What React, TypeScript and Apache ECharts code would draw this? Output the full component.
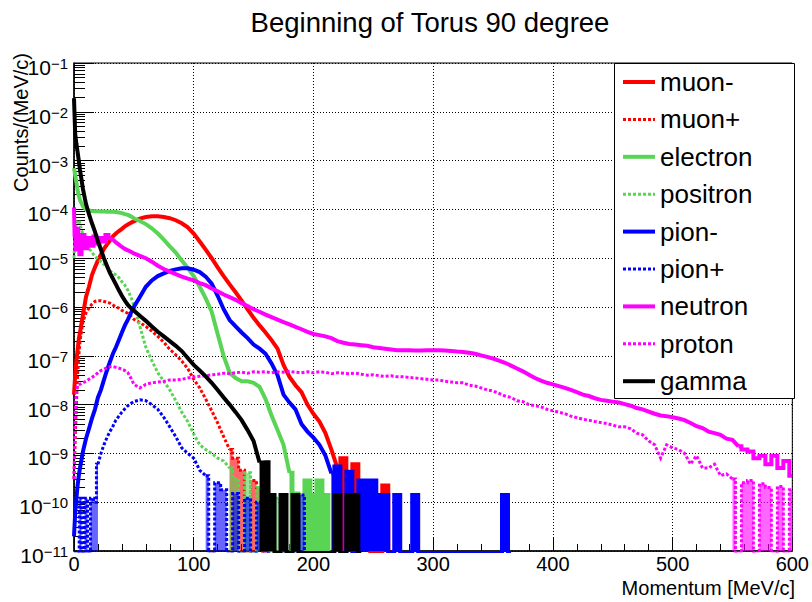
import React, { useEffect, useRef } from "react";
import * as echarts from "echarts";

const FONT = '"Liberation Sans", Arial, Helvetica, sans-serif';

// Momentum bin centres [MeV/c]
const momentum = [
  0, 1, 2, 3, 4,
  5, 7.5, 10, 12.5, 15, 17.5, 20, 22.5, 25, 27.5, 30, 32.5, 35, 37.5, 40, 42.5, 45, 47.5, 50,
  55, 60, 65, 70, 75, 80, 85, 90, 95, 100,
  105, 110, 115, 120, 125, 130, 135, 140, 145, 150,
  155, 160, 165, 170, 175, 180, 185, 190, 195, 200,
  205, 210, 215, 220, 225, 230, 235, 240, 245, 250,
  255, 260, 265, 270, 275, 280, 285, 290, 295, 300,
  305, 310, 315, 320, 325, 330, 335, 340, 345, 350,
  355, 360, 365, 370, 375, 380, 385, 390, 395, 400,
  405, 410, 415, 420, 425, 430, 435, 440, 445, 450,
  455, 460, 465, 470, 475, 480, 485, 490, 495, 500,
  505, 510, 515, 520, 525, 530, 535, 540, 545, 550,
  555, 560, 565, 570, 575, 580, 585, 590, 595, 600,
];

// Counts/(MeV/c) per bin (0 = empty bin)
const muonMinus = [
  1.6e-8, 4e-8, 8e-8, 1.3e-7, 2.2e-7,
  3e-7, 7e-7, 1.6e-6, 2.6e-6, 4.5e-6, 6.5e-6, 9e-6, 1.2e-5, 1.55e-5, 1.9e-5, 2.3e-5, 2.8e-5, 3.2e-5, 3.6e-5, 4e-5, 4.5e-5, 4.9e-5, 5.3e-5, 5.7e-5,
  6.5e-5, 7e-5, 7.2e-5, 7.2e-5, 7e-5, 6.6e-5, 6e-5, 5.2e-5, 4.3e-5, 3.2e-5,
  2.2e-5, 1.5e-5, 1e-5, 6.5e-6, 4.3e-6, 2.9e-6, 2e-6, 1.35e-6, 9e-7, 6e-7,
  4.2e-7, 3e-7, 2.1e-7, 1.4e-7, 6.5e-8, 3.7e-8, 2.5e-8, 1.8e-8, 1e-8, 6.5e-9,
  4.5e-9, 2.6e-9, 1.2e-9, 5e-10, 8e-10, 2e-10, 6e-10, 2e-10, 2.2e-10, 0,
  0, 2.2e-10, 0,
];
const muonPlus = [
  3e-10, 2e-9, 1e-8, 4e-8, 1e-7,
  2e-7, 5e-7, 7.5e-7, 9.5e-7, 1.15e-6, 1.3e-6, 1.35e-6, 1.35e-6, 1.3e-6, 1.25e-6, 1.2e-6, 1.1e-6, 1e-6, 9.5e-7, 8.5e-7, 8e-7, 7.4e-7, 6.5e-7, 5.6e-7,
  4.8e-7, 4e-7, 3.2e-7, 2.5e-7, 1.9e-7, 1.35e-7, 1.05e-7, 7.8e-8, 5.5e-8, 3.3e-8,
  2.2e-8, 1.3e-8, 7.5e-9, 4.2e-9, 2.2e-9, 1.2e-9, 8e-10, 4.5e-10, 0, 2.8e-10,
  2e-10, 0, 1e-10, 0,
];
const electron = [
  7e-4, 5e-4, 3.6e-4, 2.5e-4, 1.9e-4,
  1.55e-4, 1.15e-4, 1e-4, 9.5e-5, 9.3e-5, 9.2e-5, 9.2e-5, 9.1e-5, 9.1e-5, 9e-5, 9e-5, 8.9e-5, 8.8e-5, 8.6e-5, 8.4e-5, 8e-5, 7.7e-5, 7.2e-5, 6.6e-5,
  5.8e-5, 5e-5, 4.1e-5, 3.2e-5, 2.4e-5, 1.75e-5, 1.3e-5, 9e-6, 6.3e-6, 4.3e-6,
  2.6e-6, 1.5e-6, 8e-7, 2.8e-7, 1e-7, 4.5e-8, 3.5e-8, 3e-8, 3e-8, 2.8e-8,
  2.3e-8, 1.3e-8, 6e-9, 3e-9, 1.5e-9, 4e-10, 1.5e-10, 0, 2.8e-10, 1.4e-10,
  2.8e-10, 1.4e-10, 0,
];
const positron = [
  1e-5, 3e-5, 5e-5, 6e-5, 6e-5,
  5e-5, 3e-5, 2.2e-5, 1.6e-5, 1.3e-5, 1.1e-5, 9.5e-6, 8.5e-6, 7.5e-6, 6.5e-6, 5.5e-6, 5e-6, 4.5e-6, 4e-6, 3.3e-6, 2.8e-6, 2.2e-6, 1.6e-6, 1.1e-6,
  4e-7, 1.5e-7, 8e-8, 4.5e-8, 3e-8, 2e-8, 1.2e-8, 7e-9, 4.5e-9, 2.5e-9,
  1.5e-9, 1.2e-9, 1e-9, 8e-10, 7e-10, 5e-10, 3e-10, 0, 4e-10, 0,
  2e-10, 1.5e-10, 0, 1.2e-10, 0,
];
const pionMinus = [
  2e-11, 6e-11, 1.2e-10, 2.2e-10, 3.5e-10,
  5e-10, 1.1e-9, 2e-9, 3.2e-9, 5.2e-9, 8e-9, 1.4e-8, 2e-8, 3.2e-8, 5e-8, 7.5e-8, 1.1e-7, 1.5e-7, 2.1e-7, 3e-7, 4.2e-7, 5.5e-7, 7.5e-7, 1e-6,
  1.6e-6, 2.6e-6, 3.5e-6, 4.3e-6, 4.9e-6, 5.5e-6, 5.9e-6, 6.2e-6, 6.2e-6, 5.8e-6,
  5.2e-6, 4.2e-6, 3e-6, 1.7e-6, 9e-7, 5.4e-7, 4e-7, 3e-7, 2.3e-7, 1.7e-7,
  1.4e-7, 1.1e-7, 7e-8, 4e-8, 1.6e-8, 1.1e-8, 8e-9, 4e-9, 2.8e-9, 2.1e-9,
  1.5e-9, 9e-10, 3.9e-10, 5.4e-10, 0, 4.2e-10, 0, 2.8e-10, 2.8e-10, 2.8e-10,
  1.4e-10, 1.4e-10, 0, 1.4e-10, 0, 0, 1.4e-10, 0, 0, 0,
  0, 0, 0, 0, 0, 0, 0, 0, 0, 0,
  0, 1.4e-10, 0,
];
const pionPlus = [
  0, 0, 0, 0, 0,
  1.2e-10, 0, 1.2e-10, 0, 1.2e-10, 1e-10, 6e-10, 1e-9, 1.5e-9, 2.1e-9, 2.8e-9, 3.6e-9, 4.8e-9, 5.8e-9, 7e-9, 8.2e-9, 9.5e-9, 1.05e-8, 1.15e-8,
  1.25e-8, 1.2e-8, 1e-8, 8e-9, 5.5e-9, 3.5e-9, 2.2e-9, 1.3e-9, 1e-9, 8e-10,
  4.5e-10, 3.5e-10, 0, 2.5e-10, 1.8e-10, 0, 1.5e-10, 0, 1.2e-10, 0,
  1e-10, 0, 1e-10, 0, 0, 0, 0, 1.4e-10, 0,
];
const neutron = [
  1.1e-4, 3e-5, 1.5e-5, 4e-5, 2e-5,
  1.2e-5, 3e-5, 1.6e-5, 2.6e-5, 1.8e-5, 2.8e-5, 2e-5, 2.6e-5, 2.2e-5, 3e-5, 2.6e-5, 2.4e-5, 2.1e-5, 1.9e-5, 1.7e-5, 1.55e-5, 1.45e-5, 1.35e-5, 1.25e-5,
  1.12e-5, 1e-5, 8.5e-6, 7e-6, 6e-6, 5.3e-6, 4.7e-6, 4.2e-6, 3.8e-6, 3.5e-6,
  3.1e-6, 2.8e-6, 2.4e-6, 2.1e-6, 1.8e-6, 1.6e-6, 1.4e-6, 1.2e-6, 1.05e-6, 9e-7,
  8e-7, 7e-7, 6.2e-7, 5.5e-7, 4.9e-7, 4.4e-7, 3.9e-7, 3.5e-7, 3.1e-7, 2.8e-7,
  2.65e-7, 2.5e-7, 2.3e-7, 2e-7, 1.85e-7, 1.75e-7, 1.7e-7, 1.65e-7, 1.6e-7, 1.5e-7,
  1.45e-7, 1.4e-7, 1.35e-7, 1.3e-7, 1.3e-7, 1.3e-7, 1.28e-7, 1.28e-7, 1.3e-7, 1.3e-7,
  1.3e-7, 1.28e-7, 1.25e-7, 1.22e-7, 1.2e-7, 1.15e-7, 1.1e-7, 1.02e-7, 9.5e-8, 8.8e-8,
  8e-8, 7.2e-8, 6.3e-8, 5.5e-8, 4.8e-8, 4.1e-8, 3.5e-8, 3.1e-8, 2.8e-8, 2.6e-8,
  2.4e-8, 2.2e-8, 2e-8, 1.8e-8, 1.6e-8, 1.5e-8, 1.35e-8, 1.25e-8, 1.2e-8, 1.15e-8,
  1.1e-8, 1.02e-8, 9.5e-9, 8.5e-9, 8e-9, 7.2e-9, 6.5e-9, 6e-9, 5.8e-9, 5.5e-9,
  5.2e-9, 4.8e-9, 4.2e-9, 3.6e-9, 3.3e-9, 2.8e-9, 2.6e-9, 2.4e-9, 2e-9, 1.9e-9,
  1.4e-9, 1.2e-9, 1.1e-9, 8e-10, 9e-10, 6e-10, 9e-10, 5e-10, 7e-10, 3.5e-10,
];
const proton = [
  3e-10, 6e-9, 2e-8, 2.4e-8, 2.6e-8,
  2.6e-8, 2.8e-8, 3e-8, 3.3e-8, 3.6e-8, 4e-8, 4.5e-8, 5e-8, 5.3e-8, 5.7e-8, 6e-8, 6e-8, 5.8e-8, 5.6e-8, 5.3e-8, 5e-8, 4.5e-8, 3.5e-8, 2.6e-8,
  2.2e-8, 2.6e-8, 2.8e-8, 2.9e-8, 3e-8, 3.2e-8, 3.2e-8, 3.3e-8, 3.5e-8, 3.7e-8,
  3.8e-8, 3.9e-8, 4.1e-8, 4.2e-8, 4.4e-8, 4.3e-8, 4.5e-8, 4.6e-8, 4.4e-8, 4.7e-8,
  4.6e-8, 4.7e-8, 4.5e-8, 4.7e-8, 4.6e-8, 4.8e-8, 4.6e-8, 4.5e-8, 4.7e-8, 4.5e-8,
  4.7e-8, 4.6e-8, 4.3e-8, 4.5e-8, 4.4e-8, 4.3e-8, 4.4e-8, 4.2e-8, 4e-8, 4.1e-8,
  3.9e-8, 3.8e-8, 3.9e-8, 3.7e-8, 3.7e-8, 3.6e-8, 3.5e-8, 3.4e-8, 3.3e-8, 3.2e-8,
  3.2e-8, 3e-8, 2.9e-8, 2.8e-8, 2.8e-8, 2.5e-8, 2.4e-8, 2.2e-8, 2e-8, 1.9e-8,
  1.7e-8, 1.5e-8, 1.4e-8, 1.2e-8, 1.15e-8, 1e-8, 9.5e-9, 9e-9, 8e-9, 7.5e-9,
  7e-9, 6.5e-9, 5.8e-9, 5.4e-9, 5e-9, 4.8e-9, 4.5e-9, 4.3e-9, 4.1e-9, 3.8e-9,
  3.5e-9, 3.5e-9, 3.2e-9, 2.6e-9, 2.4e-9, 1.8e-9, 1.5e-9, 8e-10, 1.5e-9, 1.3e-9,
  1.2e-9, 1e-9, 6e-10, 9e-10, 5e-10, 5e-10, 6e-10, 3.5e-10, 3.8e-10, 3e-10,
  0, 2.5e-10, 2.8e-10, 0, 2.4e-10, 2e-10, 0, 2.1e-10, 0, 1.8e-10,
];
const gamma = [
  1.9e-2, 3.5e-3, 2.2e-3, 1.5e-3, 1e-3,
  6.5e-4, 2.6e-4, 1.3e-4, 8e-5, 5.2e-5, 3.5e-5, 2.2e-5, 1.5e-5, 1e-5, 7e-6, 5e-6, 3.8e-6, 2.9e-6, 2.2e-6, 1.7e-6, 1.35e-6, 1.1e-6, 9.5e-7, 8.5e-7,
  6.6e-7, 5.2e-7, 4e-7, 3.1e-7, 2.5e-7, 2e-7, 1.6e-7, 1.25e-7, 9e-8, 6.5e-8,
  5e-8, 3.8e-8, 2.8e-8, 2e-8, 1.4e-8, 1e-8, 7e-9, 4.8e-9, 3e-9, 1.8e-9,
  6.5e-10, 6.6e-10, 1.4e-10, 0, 1.4e-10, 0, 1.4e-10, 0, 0, 0,
  0, 0, 0, 1.4e-10, 0, 1.4e-10, 1.4e-10, 0,
];

// Decade exponents for the y tick labels (10^-11 ... 10^-1)
const decadeMin = -11;
const decadeMax = -1;

const seriesNames = ["muon-", "muon+", "electron", "positron", "pion-", "pion+", "neutron", "proton", "gamma"];
const seriesValues = [muonMinus, muonPlus, electron, positron, pionMinus, pionPlus, neutron, proton, gamma];
const seriesColors = ["#ff0000", "#ff0000", "#59d454", "#59d454", "#0000ff", "#0000ff", "#ff00ff", "#ff00ff", "#000000"];
const seriesDotted = [false, true, false, true, false, true, false, true, false];
// Momentum range drawn as a smooth trace; outside it (sparse, noisy bins) histogram steps are drawn
const smoothFrom = [0, 0, 0, 0, 0, 20, 30, 0, 0];
const smoothTo = [220, 130, 180, 130, 215, 110, 555, 550, 155];
// whether the sparse (stepped) parts are dense enough to look filled down to the axis
const headFilled = [false, false, false, false, false, true, false, false, false];
const tailFilled = [true, true, true, true, true, true, false, true, true];

const EMPTY_BIN = 1e-13; // empty bins fall below the axis floor

export default function App() {
  const ref = useRef<HTMLDivElement>(null);
  useEffect(() => {
    document.body.style.margin = "0";
    const chart = echarts.init(ref.current!, null, { renderer: "svg" });

    const minorTickValues: number[] = [];
    for (let n = decadeMin; n < decadeMax; n++) {
      for (let k = 2; k <= 9; k++) minorTickValues.push(n + Math.log10(k));
    }

    const series: any[] = [];
    seriesNames.forEach((name, i) => {
      const pts = seriesValues[i].map((v, j) => [momentum[j], v > 0 ? v : EMPTY_BIN]);
      const a = momentum.indexOf(smoothFrom[i]);
      const b = Math.min(momentum.indexOf(smoothTo[i]), pts.length - 1);
      const parts: [number[][], boolean, boolean][] = [];
      if (a > 0) parts.push([pts.slice(0, a + 1), true, headFilled[i]]);
      parts.push([pts.slice(a, b + 1), false, false]);
      if (b < pts.length - 1) parts.push([pts.slice(b), true, tailFilled[i]]);
      parts.forEach(([data, isStep, filled], k) => {
        const s: any = {
          name,
          type: "line",
          step: isStep ? "middle" : false,
          symbol: "none",
          showSymbol: false,
          clip: true,
          color: seriesColors[i],
          lineStyle: {
            color: seriesColors[i],
            width: seriesDotted[i] ? 3 : 4,
            type: seriesDotted[i] ? [3, 2] : "solid",
            cap: "butt",
            join: "miter",
          },
          emphasis: { disabled: true },
          data,
          z: 2 + i * 0.01 + k * 0.001,
        };
        if (filled) {
          s.areaStyle = { color: seriesColors[i], opacity: seriesDotted[i] ? 0.6 : 1 };
        }
        series.push(s);
      });
    });

    const labelRich = {
      b: { fontSize: 21, lineHeight: 22, color: "#000", fontFamily: FONT, verticalAlign: "bottom" },
      s: { fontSize: 15, lineHeight: 12, color: "#000", fontFamily: FONT, verticalAlign: "top" },
    };

    chart.setOption({
      animation: false,
      textStyle: { fontFamily: FONT },
      grid: {
        left: 74,
        top: 63,
        width: 721,
        height: 488,
        show: true,
        borderColor: "#000",
        borderWidth: 1,
        backgroundColor: "transparent",
      },
      xAxis: {
        type: "value",
        min: 0,
        max: 600,
        interval: 100,
        axisLine: { show: true, onZero: false, lineStyle: { color: "#000", width: 1.5 } },
        axisTick: { show: true, inside: true, length: 13, lineStyle: { color: "#000", width: 1 } },
        minorTick: { show: true, splitNumber: 5, length: 7, lineStyle: { color: "#000", width: 1 } },
        splitLine: { show: true, lineStyle: { color: "#000", width: 1, type: [1, 2] } },
        axisLabel: { fontSize: 20, color: "#000", margin: 3, fontFamily: FONT },
      },
      yAxis: [
        {
          type: "log",
          logBase: 10,
          min: 1e-11,
          max: 1e-1,
          axisLine: { show: true, onZero: false, lineStyle: { color: "#000", width: 1.5 } },
          axisTick: { show: false },
          splitLine: { show: false },
          axisLabel: { show: false },
        },
        {
          type: "value",
          min: decadeMin,
          max: decadeMax,
          interval: 1,
          position: "left",
          axisLine: { show: false },
          axisTick: { show: true, inside: true, length: 20, lineStyle: { color: "#000", width: 1 } },
          splitLine: { show: true, lineStyle: { color: "#000", width: 1, type: [1, 2] } },
          axisLabel: {
            margin: 6,
            padding: [8, 0, 0, 0],
            formatter: (v: number) => `{b|10}{s|\u2212${Math.abs(Math.round(v))}}`,
            rich: labelRich,
          },
        },
        {
          type: "value",
          min: decadeMin,
          max: decadeMax,
          position: "left",
          axisLine: { show: false },
          axisLabel: { show: false },
          splitLine: { show: false },
          axisTick: {
            show: true,
            inside: true,
            length: 11,
            customValues: minorTickValues,
            lineStyle: { color: "#000", width: 1 },
          },
        },
      ],
      legend: {
        orient: "vertical",
        left: 621,
        top: 67,
        padding: 0,
        itemGap: 7.4,
        itemWidth: 32,
        itemHeight: 4,
        selectedMode: false,
        z: 20,
        data: seriesNames,
        textStyle: { fontSize: 26, lineHeight: 30, color: "#000", fontFamily: FONT },
        itemStyle: { opacity: 0 },
        lineStyle: { width: "inherit" },
      },
      graphic: [
        {
          type: "rect",
          z: 10,
          shape: { x: 614.5, y: 63.5, width: 180, height: 335 },
          style: { fill: "#fff", stroke: "#000", lineWidth: 1 },
        },
        {
          type: "text",
          x: 430,
          y: 22,
          z: 10,
          style: {
            text: "Beginning of Torus 90 degree",
            fontSize: 27.5,
            fontFamily: FONT,
            fill: "#000",
            align: "center",
            verticalAlign: "middle",
          },
        },
        {
          type: "text",
          x: 21,
          y: 53,
          rotation: Math.PI / 2,
          z: 10,
          style: {
            text: "Counts/(MeV/c)",
            fontSize: 20,
            fontFamily: FONT,
            fill: "#000",
            align: "right",
            verticalAlign: "middle",
          },
        },
        {
          type: "text",
          x: 795,
          y: 588,
          z: 10,
          style: {
            text: "Momentum [MeV/c]",
            fontSize: 20,
            fontFamily: FONT,
            fill: "#000",
            align: "right",
            verticalAlign: "middle",
          },
        },
      ],
      series,
    });

    return () => chart.dispose();
  }, []);
  return <div ref={ref} style={{ width: 812, height: 602 }} />;
}
